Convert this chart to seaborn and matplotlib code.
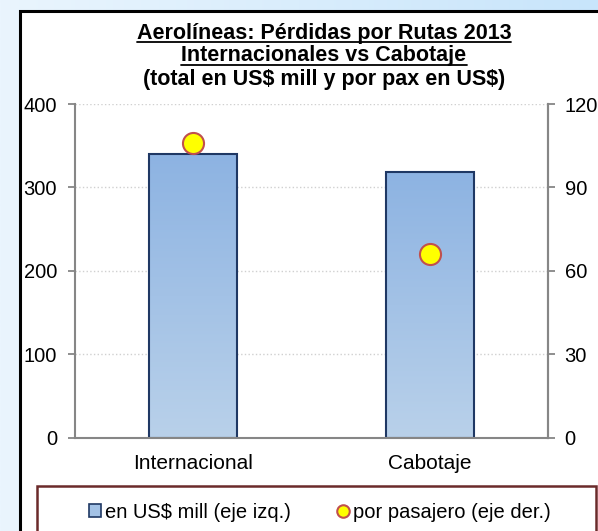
import matplotlib.pyplot as plt
import numpy as np
import pandas as pd
import seaborn as sns
from matplotlib.colors import LinearSegmentedColormap
from matplotlib.lines import Line2D
from matplotlib.patches import Patch, Rectangle

categorias = ['Internacional', 'Cabotaje']
total_mill = [340, 318]   # eje izquierdo, US$ mill
por_pax = [106, 66]       # eje derecho, US$ por pasajero

titulo = ['Aerolíneas: Pérdidas por Rutas 2013',
          'Internacionales vs Cabotaje',
          '(total en US\\$ mill y por pax en US\\$)']
left_ticks = [0, 100, 200, 300, 400]
right_ticks = [0, 30, 60, 90, 120]

df = pd.DataFrame({'ruta': categorias, 'total': total_mill, 'pax': por_pax})

sns.set_style('white')
plt.rcParams['font.family'] = ['Liberation Sans', 'DejaVu Sans']
plt.rcParams['text.color'] = 'black'
plt.rcParams['xtick.labelcolor'] = 'black'
plt.rcParams['ytick.labelcolor'] = 'black'

W, H = 598, 531
fig = plt.figure(figsize=(W / 100, H / 100), dpi=100)


def fx(px):
    return px / W


def fy(py):
    return 1 - py / H


# fondo degradado celeste
bg = fig.add_axes([0, 0, 1, 1], zorder=-10)
bg_cmap = LinearSegmentedColormap.from_list('bg', ['#EAF5FE', '#C8E5FB'])
bg.imshow(np.linspace(0, 1, 256).reshape(1, -1), cmap=bg_cmap, aspect='auto',
          extent=[0, 1, 0, 1])
bg.set_axis_off()

# marco del grafico
fig.patches.append(Rectangle((fx(20), fy(560)), fx(620), (560 - 11) / H,
                             transform=fig.transFigure, facecolor='white',
                             edgecolor='black', linewidth=2.2, zorder=-5))

ax = fig.add_axes([fx(75), fy(437.5), fx(473), 333.5 / H])
sns.barplot(data=df, x='ruta', y='total', ax=ax, width=0.372,
            color='#8DB3E2', edgecolor='#1F3864', linewidth=1.5, saturation=1)

# degradado dentro de las barras
bar_cmap = LinearSegmentedColormap.from_list('bar', ['#B9D1EA', '#8DB3E2'])
for p in ax.patches:
    x0, w, h = p.get_x(), p.get_width(), p.get_height()
    im = ax.imshow(np.linspace(0, 1, 256).reshape(-1, 1), cmap=bar_cmap,
                   origin='lower', aspect='auto', extent=[x0, x0 + w, 0, h],
                   zorder=p.get_zorder() - 0.1)
    im.set_clip_path(p)
    p.set_facecolor('none')

ax.set_xlim(-0.5, 1.5)
ax.set_ylim(0, 400)
ax.set_yticks(left_ticks)
ax.set_xticks([0, 1])
ax.set_xticklabels(categorias)
ax.set_xticks([-0.5, 0.5, 1.5], minor=True)
ax.set_xlabel('')
ax.set_ylabel('')
ax.grid(axis='y', color='#D0D0D0', linestyle=':', linewidth=1)
ax.set_axisbelow(True)
ax.tick_params(axis='x', which='major', length=0, pad=12, labelsize=15)
ax.tick_params(axis='x', which='minor', length=7, width=1.3, color='#868686',
               direction='inout')
ax.tick_params(axis='y', length=5, width=1.3, color='#868686', direction='out',
               pad=8, labelsize=14.5)
for s in ['left', 'bottom', 'right']:
    ax.spines[s].set_color('#868686')
    ax.spines[s].set_linewidth(1.5)
ax.spines['top'].set_visible(False)

ax2 = ax.twinx()
sns.scatterplot(x=[0, 1], y=df['pax'], ax=ax2, s=230, color='#FFFF00',
                edgecolor='#C0504D', linewidth=1.5, zorder=5, legend=False)
ax2.set_ylim(0, 120)
ax2.set_yticks(right_ticks)
ax2.set_ylabel('')
ax2.tick_params(axis='y', length=5, width=1.3, color='#868686', direction='out',
                pad=7, labelsize=14.5)
for s in ['left', 'bottom', 'top']:
    ax2.spines[s].set_visible(False)
ax2.spines['right'].set_color('#868686')
ax2.spines['right'].set_linewidth(1.5)

# titulo (dos primeras lineas subrayadas)
title_y = [33, 56, 79]
texts = []
for line, ty in zip(titulo, title_y):
    t = fig.text(fx(324), fy(ty), line, ha='center', va='center',
                 fontsize=15.5, fontweight='bold', color='black')
    texts.append(t)
fig.canvas.draw()
renderer = fig.canvas.get_renderer()
for t in texts[:2]:
    bb = t.get_window_extent(renderer)
    yline = bb.y0 + 1.5
    fig.add_artist(Line2D([bb.x0 / W, bb.x1 / W], [yline / H, yline / H],
                          transform=fig.transFigure, color='black', linewidth=1.3))

# leyenda
fig.patches.append(Rectangle((fx(37), fy(560)), fx(559), (560 - 486) / H,
                             transform=fig.transFigure, facecolor='white',
                             edgecolor='#6B2A2A', linewidth=1.8, zorder=-4))
handles = [
    Patch(facecolor='#A3C2E6', edgecolor='#1F3864', linewidth=1.2),
    Line2D([], [], marker='o', linestyle='none', markersize=9,
           markerfacecolor='#FFFF00', markeredgecolor='#C0504D', markeredgewidth=1.5),
]
labels = ['en US$ mill (eje izq.)', 'por pasajero (eje der.)']
fig.legend(handles, labels, loc='center', bbox_to_anchor=(fx(320), fy(512)),
           ncol=2, frameon=False, fontsize=14.5, handlelength=0.6,
           handleheight=0.6, handletextpad=0.2, columnspacing=2.3)

fig.savefig('out.png', dpi=100)
